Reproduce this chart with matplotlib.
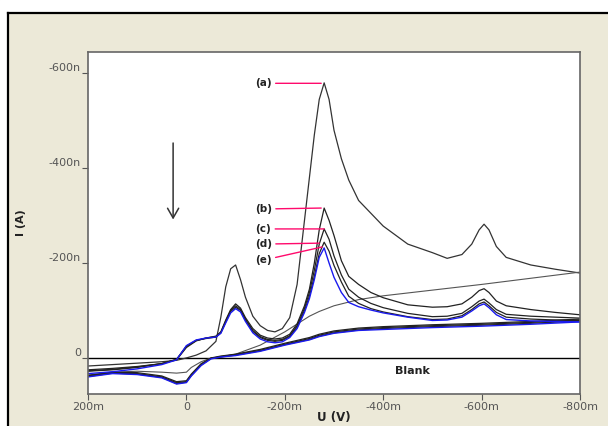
import matplotlib
matplotlib.use("Agg")
import matplotlib.pyplot as plt
from matplotlib.lines import Line2D

# forward scan potentials (V)
E_fwd = [0.2, 0.15, 0.1, 0.05, 0.02, 0.0, -0.02, -0.04, -0.06, -0.07, -0.08, -0.09,
         -0.1, -0.11, -0.12, -0.135, -0.15, -0.165, -0.18, -0.195, -0.21, -0.225,
         -0.24, -0.25, -0.26, -0.27, -0.28, -0.29, -0.3, -0.315, -0.33, -0.35,
         -0.375, -0.4, -0.45, -0.5, -0.53, -0.56, -0.58, -0.595, -0.605, -0.615,
         -0.63, -0.65, -0.7, -0.75, -0.8]

# currents in nA
I_a = [17, 14, 11, 8, 5, 0, -6, -15, -35, -86, -150, -188,
       -196, -165, -128, -88, -68, -58, -55, -62, -85, -155,
       -290, -380, -470, -545, -580, -545, -480, -420, -375, -332,
       -305, -278, -240, -222, -210, -218, -240, -270, -282, -270,
       -235, -212, -196, -187, -179]
I_b = [25, 22, 18, 12, 4, -22, -36, -42, -46, -55, -80, -102,
       -114, -105, -85, -62, -48, -42, -40, -42, -50, -72,
       -110, -145, -200, -270, -316, -290, -258, -205, -172, -155,
       -138, -127, -112, -107, -108, -114, -128, -142, -146, -138,
       -120, -110, -102, -96, -91]
I_c = [27, 24, 19, 12, 3, -24, -37, -42, -45, -54, -78, -100,
       -110, -102, -82, -58, -45, -39, -37, -39, -47, -68,
       -105, -138, -185, -240, -272, -250, -215, -175, -145, -128,
       -115, -106, -94, -87, -88, -94, -108, -120, -124, -116,
       -102, -92, -88, -86, -84]
I_d = [28, 25, 20, 12, 3, -25, -37, -41, -44, -53, -76, -98,
       -107, -100, -80, -56, -43, -37, -35, -37, -45, -65,
       -100, -130, -172, -220, -244, -225, -195, -160, -130, -115,
       -104, -97, -87, -81, -82, -89, -102, -114, -118, -110,
       -96, -86, -82, -80, -79]
I_e = [33, 29, 23, 14, 4, -26, -38, -42, -44, -52, -74, -95,
       -104, -97, -77, -53, -40, -34, -32, -34, -43, -62,
       -96, -125, -165, -212, -232, -200, -170, -138, -117, -108,
       -101, -95, -86, -79, -80, -86, -99, -110, -114, -106,
       -91, -81, -78, -77, -76]

# return scan potentials (V)
E_rev = [-0.8, -0.7, -0.6, -0.5, -0.4, -0.35, -0.3, -0.27, -0.25, -0.2, -0.15,
         -0.1, -0.07, -0.05, -0.03, -0.01, 0.0, 0.02, 0.05, 0.1, 0.15, 0.2]
R_a = [-181, -168, -155, -143, -131, -123, -110, -98, -88, -55, -27,
       -8, -2, 0, 8, 20, 30, 32, 30, 28, 30, 36]
R_b = [-82, -77, -73, -70, -66, -63, -57, -50, -43, -31, -18,
       -8, -4, 0, 12, 34, 48, 50, 38, 31, 30, 37]
R_c = [-80, -75, -71, -68, -64, -61, -55, -48, -41, -29, -16,
       -7, -3, 1, 14, 36, 50, 52, 40, 33, 31, 38]
R_d = [-78, -73, -69, -66, -62, -59, -53, -46, -39, -28, -15,
       -6, -2, 1, 15, 37, 51, 54, 41, 34, 32, 39]
R_e = [-76, -71, -67, -64, -60, -58, -52, -45, -38, -27, -14,
       -5, -2, 2, 16, 38, 52, 55, 42, 35, 33, 40]

blank_E = [0.2, -0.8]
blank_I = [0, 0]

labels = ["(a)", "(b)", "(c)", "(d)", "(e)"]
label_I = [-579, -314, -272, -240, -206]
peak_E = [-0.274, -0.274, -0.28, -0.27, -0.276]
peak_I = [-579, -316, -272, -242, -234]

xticks = [0.2, 0.0, -0.2, -0.4, -0.6, -0.8]
xticklabels = ["200m", "0", "-200m", "-400m", "-600m", "-800m"]
yticks = [0, -200, -400, -600]
yticklabels = ["0", "-200n", "-400n", "-600n"]

bg = "#ece9d8"
fig = plt.figure(figsize=(6.08, 4.26), dpi=100, facecolor=bg)
ax = fig.add_axes([88 / 608, 1 - 394 / 426, 492 / 608, 342 / 426])

ax.plot(blank_E, blank_I, color="black", lw=1.0)

ax.plot(E_fwd, I_a, color="#333333", lw=0.9)
ax.plot(E_rev, R_a, color="#555555", lw=0.8)
for I, R in [(I_b, R_b), (I_c, R_c), (I_d, R_d)]:
    ax.plot(E_fwd, I, color="#222222", lw=0.9)
    ax.plot(E_rev, R, color="#222222", lw=0.9)
ax.plot(E_fwd, I_e, color="#1a1aee", lw=1.0)
ax.plot(E_rev, R_e, color="#1a1aee", lw=1.0)

for lab, ly, pe, pi in zip(labels, label_I, peak_E, peak_I):
    ax.annotate(lab, xy=(pe, pi), xytext=(-0.156, ly), ha="center", va="center",
                fontsize=7.5, fontweight="bold", color="#222222",
                arrowprops=dict(arrowstyle="-", color="#ff0a6c", lw=1.0,
                                shrinkA=1, shrinkB=0))

ax.annotate("", xy=(0.027, -286), xytext=(0.027, -459),
            arrowprops=dict(arrowstyle="->,head_length=0.7,head_width=0.4",
                            color="#333333", lw=1.1))

ax.text(-0.46, 27, "Blank", ha="center", va="center", fontsize=8,
        fontweight="bold", color="#222222")

ax.set_xlim(0.2, -0.8)
ax.set_ylim(76, -645)
ax.set_xticks(xticks)
ax.set_xticklabels(xticklabels)
ax.set_yticks(yticks)
ax.set_yticklabels(yticklabels)
for lbl in ax.get_yticklabels():
    lbl.set_verticalalignment("bottom")
ax.tick_params(axis="both", direction="out", length=4, width=0.8,
               colors="#555555", labelsize=8, pad=1)
ax.tick_params(axis="x", pad=2)
for s in ax.spines.values():
    s.set_color("#666666")
    s.set_linewidth(1.2)

fig.text(21 / 608, 1 - 223 / 426, "I (A)", rotation=90, ha="center", va="center",
         fontsize=8, fontweight="bold", color="#222222")
fig.text(334 / 608, 1.5 / 426, "U (V)", ha="center", va="bottom",
         fontsize=8.5, fontweight="bold", color="#222222")

# outer frame (left and top edges visible)
fig.add_artist(Line2D([7.5 / 608, 7.5 / 608], [0, 1 - 13 / 426], color="black", lw=1.6))
fig.add_artist(Line2D([7.5 / 608, 1], [1 - 13 / 426, 1 - 13 / 426], color="black", lw=1.6))
fig.add_artist(plt.Rectangle((0, 1 - 12 / 426), 1, 12 / 426, color="white",
                             transform=fig.transFigure, zorder=-1))
fig.add_artist(plt.Rectangle((0, 0), 7 / 608, 1, color="white",
                             transform=fig.transFigure, zorder=-1))

fig.savefig("out.png", dpi=100, facecolor=bg)
